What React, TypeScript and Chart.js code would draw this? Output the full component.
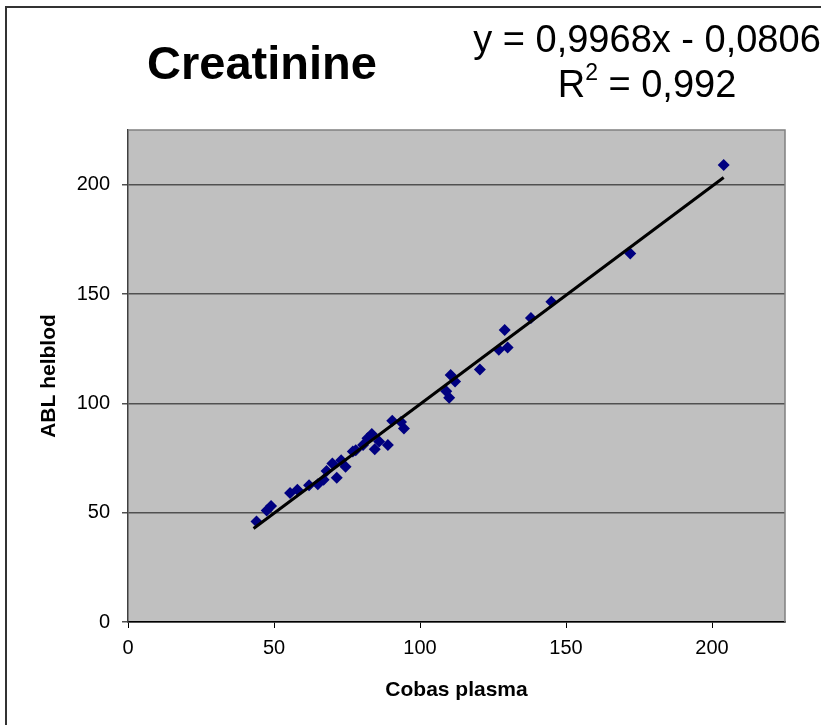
import React, { useEffect, useRef } from "react";
import { Chart, registerables } from "chart.js";

Chart.register(...registerables);

const titleText = "Creatinine";
const equationLine1 = "y = 0,9968x - 0,0806";
const rSquaredLabel = "R";
const rSquaredExponent = "2";
const rSquaredValue = " = 0,992";
const xAxisTitle = "Cobas plasma";
const yAxisTitle = "ABL helblod";

const cobasPlasma = [44, 47.5, 49, 55.5, 58, 62, 65, 67, 68, 70, 71.5, 73, 74.5, 77, 78, 80.5, 82, 83.5, 84.5, 86, 89, 90.5, 93.5, 94.5, 109, 110, 110.5, 112, 120.5, 127, 129, 130, 138, 145, 172, 204];
const ablHelblod = [46, 51, 53, 59, 60.5, 62.5, 63, 65, 69, 72.5, 66, 74, 71, 78, 78.5, 81, 84, 86, 79, 82.5, 81, 92, 91.5, 88.5, 105.5, 102.5, 113, 110, 115.5, 124.5, 133.5, 125.5, 139, 146.5, 168.5, 209];

const trendSlope = 0.9968;
const trendIntercept = -0.0806;

const axisMin = 0;
const axisMax = 225;
const tickStep = 50;

const FONT = "'Liberation Sans', Arial, sans-serif";

export default function App() {
  const ref = useRef<HTMLCanvasElement | null>(null);

  useEffect(() => {
    if (!ref.current) return;
    const points = cobasPlasma.map((x, i) => ({ x, y: ablHelblod[i] }));
    const xMin = Math.min(...cobasPlasma) - 1;
    const xMax = Math.max(...cobasPlasma);
    const trend = [xMin, xMax].map((x) => ({ x, y: trendSlope * x + trendIntercept }));

    const decor = {
      id: "decor",
      beforeDraw(chart: any) {
        const { ctx, chartArea: a } = chart;
        ctx.save();
        ctx.fillStyle = "#ffffff";
        ctx.fillRect(0, 0, chart.width, chart.height);
        ctx.fillStyle = "#c0c0c0";
        ctx.fillRect(a.left, a.top, a.right - a.left, a.bottom - a.top);
        ctx.restore();
      },
      afterDraw(chart: any) {
        const { ctx, chartArea: a } = chart;
        ctx.save();
        ctx.strokeStyle = "#808080";
        ctx.lineWidth = 1.5;
        ctx.beginPath();
        ctx.moveTo(a.left, a.top);
        ctx.lineTo(a.right, a.top);
        ctx.lineTo(a.right, a.bottom);
        ctx.stroke();
        ctx.strokeStyle = "#333333";
        ctx.lineWidth = 2;
        ctx.beginPath();
        ctx.moveTo(6, chart.height + 5);
        ctx.lineTo(6, 7);
        ctx.lineTo(chart.width + 5, 7);
        ctx.stroke();
        ctx.fillStyle = "#000";
        ctx.textBaseline = "alphabetic";
        ctx.textAlign = "center";
        ctx.font = `bold 47px ${FONT}`;
        ctx.fillText(titleText, 262, 79);
        ctx.font = `38px ${FONT}`;
        ctx.fillText(equationLine1, 647, 52);
        // R² line with real superscript
        ctx.textAlign = "left";
        const mainFont = `38px ${FONT}`;
        const supFont = `23px ${FONT}`;
        ctx.font = mainFont;
        const wR = ctx.measureText(rSquaredLabel).width;
        const wV = ctx.measureText(rSquaredValue).width;
        ctx.font = supFont;
        const wS = ctx.measureText(rSquaredExponent).width;
        const total = wR + wS + wV;
        let x = 647 - total / 2;
        ctx.font = mainFont;
        ctx.fillText(rSquaredLabel, x, 97);
        x += wR;
        ctx.font = supFont;
        ctx.fillText(rSquaredExponent, x, 80);
        x += wS;
        ctx.font = mainFont;
        ctx.fillText(rSquaredValue, x, 97);
        ctx.restore();
      },
    };

    const chart = new Chart(ref.current, {
      type: "scatter",
      data: {
        datasets: [
          {
            label: "Data",
            data: points,
            pointStyle: "rectRot",
            pointRadius: 6,
            backgroundColor: "#000080",
            borderColor: "#000080",
            borderWidth: 0,
            order: 2,
          },
          {
            label: "Trend",
            type: "line",
            data: trend,
            borderColor: "#000000",
            borderWidth: 3,
            pointRadius: 0,
            fill: false,
            order: 1,
          } as any,
        ],
      },
      options: {
        animation: false,
        responsive: false,
        devicePixelRatio: 1,
        layout: { padding: { top: 130, right: 36, left: 0, bottom: 0 } },
        plugins: { legend: { display: false }, tooltip: { enabled: false }, title: { display: false } },
        scales: {
          x: {
            type: "linear",
            min: axisMin,
            max: axisMax,
            afterFit(scale: any) {
              scale.height = 103;
            },
            ticks: { stepSize: tickStep, includeBounds: false, padding: 8, color: "#000", font: { family: FONT, size: 20 }, maxRotation: 0 },
            grid: { drawOnChartArea: false, drawTicks: true, tickLength: 6, color: "#000" },
            border: { color: "#000", width: 1.5 },
            title: { display: true, text: xAxisTitle, color: "#000", font: { family: FONT, size: 21, weight: "bold" }, padding: { bottom: 22, top: 0 } },
          },
          y: {
            type: "linear",
            min: axisMin,
            max: axisMax,
            afterFit(scale: any) {
              scale.width = 128;
            },
            ticks: { stepSize: tickStep, includeBounds: false, padding: 12, color: "#000", font: { family: FONT, size: 20 } },
            grid: { color: "#505050", lineWidth: 1.5, drawTicks: true, tickLength: 6 },
            border: { color: "#404040", width: 1.5 },
            title: { display: true, text: yAxisTitle, color: "#000", font: { family: FONT, size: 21, weight: "bold" }, padding: { top: 37, bottom: 0 } },
          },
        },
      },
      plugins: [decor],
    });
    return () => chart.destroy();
  }, []);

  return (
    <div style={{ position: "fixed", left: 0, top: 0, width: 821, height: 725, background: "#fff" }}>
      <canvas ref={ref} width={821} height={725} style={{ width: 821, height: 725, display: "block" }} />
    </div>
  );
}
